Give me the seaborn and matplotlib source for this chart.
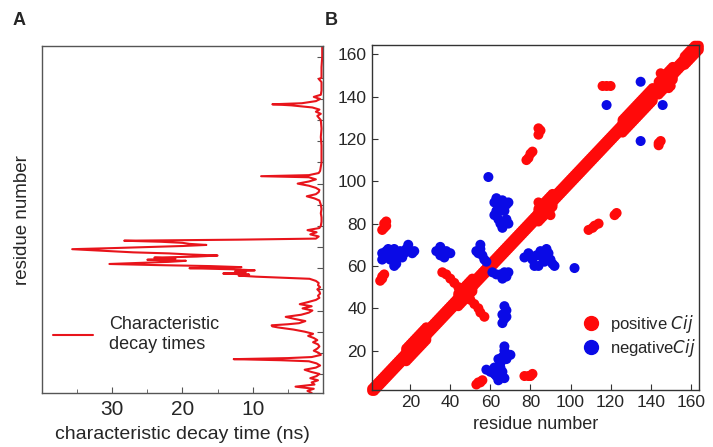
import numpy as np
import pandas as pd
import matplotlib
matplotlib.use("Agg")
import matplotlib.pyplot as plt
from matplotlib.lines import Line2D
import seaborn as sns

sns.set_style("white")
plt.rcParams['font.family'] = ['Liberation Sans', 'DejaVu Sans']

# ---------------- Panel A data: characteristic decay time per residue ----------------
residue_a = [1, 2, 3, 4, 5, 6, 7, 8, 9, 10, 11, 12, 13, 14, 15, 16, 16.5, 17, 17.5, 18, 19, 20,
             21, 22, 23, 24, 25, 26, 27, 28, 29, 30, 31, 32, 32.5, 33, 33.5, 34, 35, 36, 37, 38, 39,
             40, 41, 42, 43, 44, 45, 46, 47, 48, 49, 50, 51, 52, 53, 54, 55, 56, 56.5, 57, 57.5,
             58, 58.5, 59, 59.5, 60, 60.5, 61, 61.5, 62, 62.5, 63, 63.5, 64, 64.5, 65, 65.5, 66,
             66.5, 67, 67.5, 68, 68.5, 69, 69.5, 70, 70.5, 71, 71.5, 72, 72.5, 73, 73.5, 74, 75,
             76, 77, 78, 79, 80, 82, 84, 86, 88, 90, 92, 93, 94, 95, 96, 97, 98, 99, 100, 101,
             102, 103, 103.5, 104, 105, 106, 108, 110, 114, 118, 122, 126, 130, 132, 133, 134,
             135, 136, 137, 137.5, 138, 139, 140, 141, 142, 144, 148, 149.5, 150, 151, 155, 160, 165]
decay_time = [1.6, 2.2, 1.3, 3.9, 1.2, 1.6, 0.7, 1.8, 0.9, 0.5, 1.7, 2.6, 1.0, 0.4, 0.9, 2.0, 6.0, 12.7, 5.0, 1.6, 0.3, 0.6,
              1.3, 0.8, 0.5, 0.7, 1.4, 0.8, 1.3, 2.1, 1.4, 2.6, 4.2, 6.4, 7.2, 7.3, 5.0, 3.4, 2.5, 4.0, 5.3, 3.1, 2.0,
              1.5, 2.9, 1.6, 3.3, 2.1, 1.0, 0.5, 0.7, 0.4, 0.5, 0.8, 0.4, 0.7, 0.6, 1.0, 1.9, 9.5, 12.0, 10.5, 14.2,
              11.0, 12.5, 9.7, 13.0, 19.0, 11.6, 16.0, 24.0, 30.4, 26.0, 22.0, 19.5, 25.0, 21.0, 24.0, 18.0, 15.0,
              19.0, 21.9, 27.0, 30.0, 33.0, 35.7, 30.0, 25.0, 20.0, 16.6, 19.0, 20.0, 23.0, 28.3, 12.0, 1.0, 0.6,
              1.8, 0.9, 2.2, 0.5, 0.3, 0.2, 0.2, 0.3, 0.2, 0.3, 0.5, 1.2, 2.3, 1.0, 0.6, 0.5, 1.0, 2.0, 3.6, 2.0,
              1.0, 2.0, 8.8, 2.0, 0.6, 0.4, 0.3, 0.2, 0.2, 0.2, 0.3, 0.2, 0.3, 0.8, 0.3, 1.0,
              0.5, 1.5, 4.5, 7.2, 3.0, 1.0, 0.4, 1.3, 0.3, 0.2, 0.2, 0.6, 0.2, 0.2, 0.2, 0.1, 0.1]

# ---------------- Panel B data: correlation map ----------------
n_residues = 164
thick_ranges = [(18, 28, 3), (44, 51, 3), (84, 91, 3), (126, 141, 3), (144, 151, 3), (157, 164, 2)]

pos_i = [7, 7, 8, 6, 8, 5, 6, 7, 6,
         36, 38, 40, 42, 44, 46, 48, 50, 52, 54, 55, 57,
         53, 55, 56, 54, 77, 79, 81, 80, 84, 85, 84,
         78, 79, 80, 81, 109, 111, 112, 114, 122, 123,
         116, 118, 120, 144, 145, 144,
         84, 86, 88, 90, 145, 150, 149, 146]
pos_j = [78, 80, 81, 77, 79, 53, 55, 56, 54,
         57, 56, 54, 52, 50, 48, 46, 44, 42, 40, 38, 36,
         4, 5, 6, 5, 8, 8, 9, 8, 122, 124, 125,
         110, 111, 113, 114, 77, 78, 79, 80, 84, 85,
         145, 145, 145, 117, 119, 118,
         90, 88, 86, 84, 151, 145, 144, 150]

neg_i = [6, 7, 8, 9, 10, 11, 12, 13, 14, 15, 16, 17, 18, 19, 20, 21, 22, 12, 9, 6,
         33, 35, 36, 37, 38, 40, 35,
         53, 55, 56, 57, 58, 55, 54,
         59,
         62, 63, 64, 65, 62, 64, 65, 66, 68, 69, 67, 68, 69, 66, 63,
         61, 63, 65, 67, 68, 66, 69,
         66, 67, 68, 67, 66, 68,
         58, 60, 62, 63, 64, 65, 66, 67, 68, 66, 67, 65, 70, 64, 67, 62,
         77, 79, 81, 82, 83, 85, 86, 87, 88, 89, 90, 91, 92, 84,
         102, 118, 135, 135, 146]
neg_j = [66, 64, 67, 65, 63, 66, 68, 61, 65, 67, 64, 66, 68, 70, 67, 66, 67, 60, 68, 63,
         67, 69, 66, 64, 67, 66, 65,
         67, 68, 65, 63, 62, 70, 66,
         102,
         90, 92, 88, 86, 84, 82, 80, 78, 89, 90, 86, 82, 80, 91, 86,
         57, 56, 56, 57, 55, 54, 57,
         37, 35, 39, 41, 33, 36,
         11, 10, 12, 8, 6, 14, 17, 20, 16, 10, 7, 12, 18, 16, 22, 9,
         64, 66, 63, 60, 65, 67, 64, 62, 68, 66, 63, 61, 60, 60,
         59, 136, 147, 119, 136]

# build correlation point table (diagonal band = each residue with its near neighbours)
residues = np.arange(1, n_residues + 1)
rows = []
for r in residues:
    width = 1
    for a, b, w in thick_ranges:
        if a <= r <= b:
            width = w
    for d in range(-width, width + 1):
        if 1 <= r + d <= n_residues:
            rows.append((r, r + d, "positive"))
for i, j in zip(pos_i, pos_j):
    rows.append((i, j, "positive"))
for i, j in zip(neg_i, neg_j):
    rows.append((i, j, "negative"))
df_b = pd.DataFrame(rows, columns=["i", "j", "sign"])

RED = "#ff0a0a"
BLUE = "#0a0ae6"
LINE_RED = "#e8141b"
SPINE = "#555555"

fig = plt.figure(figsize=(7.13, 4.47), dpi=100)
axA = fig.add_axes([0.0589, 0.1208, 0.394, 0.776])
axB = fig.add_axes([0.522, 0.128, 0.458, 0.772])

# ---- Panel A ----
df_a = pd.DataFrame({"residue": residue_a, "time": decay_time})
sns.lineplot(data=df_a, x="time", y="residue", sort=False, estimator=None, ax=axA,
             color=LINE_RED, lw=1.5, label="Characteristic\ndecay times")
axA.set_xlim(40, 0)
axA.set_ylim(1, 165)
axA.set_xticks([30, 20, 10])
axA.set_xticks([35, 25, 15, 5], minor=True)
axA.set_yticks(np.arange(10, 165, 10))
axA.yaxis.tick_right()
axA.tick_params(axis='y', which='both', direction='in', length=4, color=SPINE, labelright=False, right=True, left=False)
axA.tick_params(axis='x', which='major', direction='in', length=4, color=SPINE, labelsize=15, pad=5, bottom=True)
axA.tick_params(axis='x', which='minor', direction='in', length=3, color=SPINE, bottom=True)
axA.set_xlabel("characteristic decay time (ns)", fontsize=14, labelpad=5)
axA.set_ylabel("residue number", fontsize=13.5, labelpad=8)
for s in axA.spines.values():
    s.set_color(SPINE)
    s.set_linewidth(1.0)
axA.legend(loc="lower left", bbox_to_anchor=(0.0, 0.085), frameon=False, fontsize=13,
           handlelength=2.2, handletextpad=0.9, borderaxespad=0.2)

# ---- Panel B ----
sns.scatterplot(data=df_b, x="i", y="j", hue="sign", hue_order=["positive", "negative"],
                palette={"positive": RED, "negative": BLUE}, s=52, linewidth=0, ax=axB,
                legend=False, clip_on=False)
axB.set_xlim(1, 164)
axB.set_ylim(1.5, 164.5)
axB.set_xticks(np.arange(20, 161, 20))
axB.set_yticks(np.arange(20, 161, 20))
axB.tick_params(axis='both', direction='in', length=4, color="#333333", labelsize=12.5, pad=4,
                bottom=True, left=True)
axB.set_xlabel("residue number", fontsize=13, labelpad=4)
axB.set_ylabel("")
for s in axB.spines.values():
    s.set_color("#333333")
    s.set_linewidth(1.0)
handles = [Line2D([], [], marker='o', ls='', color=RED, markersize=10),
           Line2D([], [], marker='o', ls='', color=BLUE, markersize=10)]
axB.legend(handles, ["positive $\\mathit{Cij}$", "negative$\\mathit{Cij}$"], loc="lower right",
           frameon=False, fontsize=12, handletextpad=0.1, labelspacing=0.15,
           borderaxespad=0.2, bbox_to_anchor=(1.02, 0.06))

fig.text(0.018, 0.945, "A", fontsize=13, fontweight="bold")
fig.text(0.455, 0.945, "B", fontsize=13, fontweight="bold")

fig.savefig("out.png", dpi=100)
